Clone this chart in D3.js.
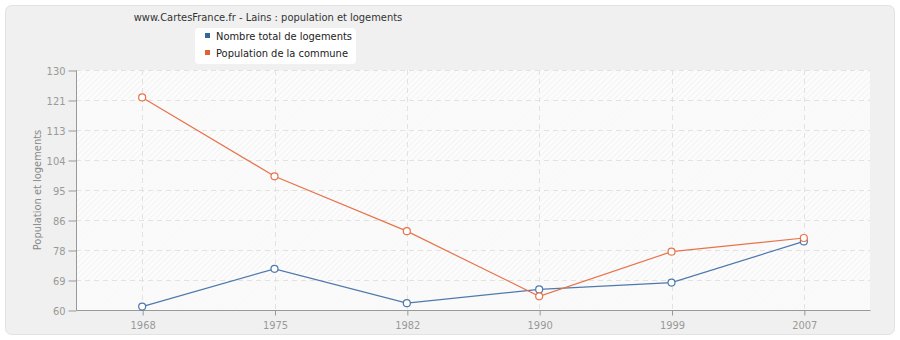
<!DOCTYPE html>
<html>
<head>
<meta charset="utf-8">
<script src="https://cdn.jsdelivr.net/npm/d3@7"></script>
<style>
  body { margin: 0; background: #fff; }
  svg text { font-family: "DejaVu Sans Condensed", "DejaVu Sans", sans-serif; }
</style>
</head>
<body>
<svg id="chart" width="900" height="340"></svg>
<script>
// data
var years = ["1968", "1975", "1982", "1990", "1999", "2007"];
var logements = [61, 72, 62, 66, 68, 80];
var population = [122, 99, 83, 64, 77, 81];
var yTicks = [60, 68.75, 77.5, 86.25, 95, 103.75, 112.5, 121.25, 130];
var seriesNames = ["Nombre total de logements", "Population de la commune"];
var seriesColors = ["#4f79ab", "#e8734a"];
var legendColors = ["#336699", "#e0622f"];

var svg = d3.select("#chart");
var pLeft = 76, pRight = 870, pTop = 70, pBottom = 310;
var font = "DejaVu Sans Condensed, DejaVu Sans, sans-serif";

svg.append("rect")
  .attr("x", 5.5).attr("y", 5.5).attr("width", 889).attr("height", 329)
  .attr("rx", 6).attr("fill", "#f0f0f0").attr("stroke", "#e2e2e2");

var defs = svg.append("defs");
var pat = defs.append("pattern")
  .attr("id", "hatch").attr("patternUnits", "userSpaceOnUse")
  .attr("width", 4).attr("height", 4)
  .attr("patternTransform", "rotate(45)");
pat.append("rect").attr("width", 4).attr("height", 4).attr("fill", "#fcfcfc");
pat.append("line").attr("x1", 0).attr("y1", 0).attr("x2", 0).attr("y2", 4)
  .attr("stroke", "#ededed").attr("stroke-width", 1.2);

svg.append("rect")
  .attr("x", pLeft).attr("y", pTop).attr("width", pRight - pLeft).attr("height", pBottom - pTop)
  .attr("fill", "url(#hatch)");

var x = d3.scalePoint().domain(years).range([pLeft, pRight]).padding(0.5);
var y = d3.scaleLinear().domain([60, 130]).range([pBottom, pTop]);

// lighter alternating bands
svg.append("g").selectAll("rect").data(d3.pairs(yTicks).filter(function(p, i) { return i % 2 === 0; }))
  .enter().append("rect")
  .attr("x", pLeft).attr("width", pRight - pLeft)
  .attr("y", function(p) { return y(p[1]); })
  .attr("height", function(p) { return y(p[0]) - y(p[1]); })
  .attr("fill", "#fafafa").attr("fill-opacity", 0.75);

// grid
svg.append("g").selectAll("line").data(yTicks.slice(1)).enter().append("line")
  .attr("x1", pLeft).attr("x2", pRight)
  .attr("y1", function(d) { return Math.round(y(d)) + 0.5; })
  .attr("y2", function(d) { return Math.round(y(d)) + 0.5; })
  .attr("stroke", "#e2e2e2").attr("stroke-dasharray", "5,4");
svg.append("g").selectAll("line").data(years).enter().append("line")
  .attr("y1", pTop).attr("y2", pBottom)
  .attr("x1", function(d) { return Math.round(x(d)) + 0.5; })
  .attr("x2", function(d) { return Math.round(x(d)) + 0.5; })
  .attr("stroke", "#e2e2e2").attr("stroke-dasharray", "5,4");

// axes
var yAxis = svg.append("g")
  .attr("transform", "translate(" + (pLeft + 0.5) + ",0.5)")
  .call(d3.axisLeft(y).tickValues(yTicks).tickSize(8).tickPadding(3)
    .tickFormat(function(d) { return Math.round(d); }));
var xAxis = svg.append("g")
  .attr("transform", "translate(0.5," + (pBottom + 0.5) + ")")
  .call(d3.axisBottom(x).tickSize(5).tickPadding(6));
[yAxis, xAxis].forEach(function(a) {
  a.select(".domain").attr("stroke", "#999");
  a.selectAll(".tick line").attr("stroke", "#999");
  a.selectAll(".tick text").attr("fill", "#999").attr("font-size", 11)
    .attr("font-family", font);
});
yAxis.select(".domain").attr("d", "M0," + pTop + "V" + pBottom);
xAxis.select(".domain").attr("d", "M" + pLeft + ",0H" + pRight);

svg.append("text")
  .attr("transform", "translate(41," + ((pTop + pBottom) / 2) + ") rotate(-90)")
  .attr("text-anchor", "middle").attr("font-size", 11).attr("fill", "#888")
  .text("Population et logements");

// lines
var line = d3.line()
  .x(function(d, i) { return x(years[i]); })
  .y(function(d) { return y(d); });
[logements, population].forEach(function(vals, k) {
  svg.append("path").datum(vals)
    .attr("d", line).attr("fill", "none")
    .attr("stroke", seriesColors[k]).attr("stroke-width", 1.2);
  svg.append("g").selectAll("circle").data(vals).enter().append("circle")
    .attr("cx", function(d, i) { return x(years[i]); })
    .attr("cy", function(d) { return y(d); })
    .attr("r", 3.5).attr("fill", "#fff")
    .attr("stroke", seriesColors[k]).attr("stroke-width", 1.2);
});

// title + legend
svg.append("text")
  .attr("x", 268).attr("y", 21).attr("text-anchor", "middle")
  .attr("font-size", 11).attr("fill", "#333")
  .text("www.CartesFrance.fr - Lains : population et logements");

svg.append("rect")
  .attr("x", 195).attr("y", 28).attr("width", 161).attr("height", 36)
  .attr("rx", 4).attr("fill", "#fff");
seriesNames.forEach(function(name, i) {
  svg.append("rect")
    .attr("x", 205).attr("y", 33 + i * 17).attr("width", 5).attr("height", 5)
    .attr("fill", legendColors[i]);
  svg.append("text")
    .attr("x", 216).attr("y", 39.5 + i * 17)
    .attr("font-size", 11).attr("fill", "#222")
    .text(name);
});
</script>
</body>
</html>
